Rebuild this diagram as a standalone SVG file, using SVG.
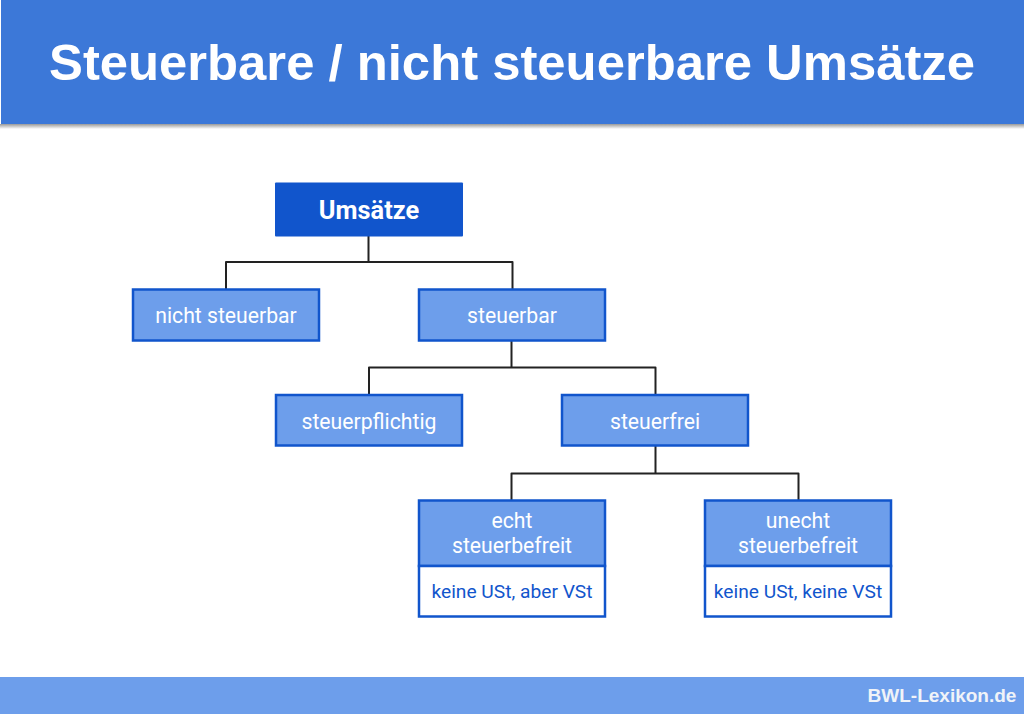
<svg xmlns="http://www.w3.org/2000/svg" width="1024" height="714" viewBox="0 0 1024 714">
<style>
.n{fill:#6d9eeb;stroke:#1155cc;stroke-width:2.500}
.w{fill:#fff;stroke:#1155cc;stroke-width:2.500}
.c{fill:none;stroke:#222;stroke-width:2;stroke-linejoin:round}
text{font-family:Roboto,"Liberation Sans",sans-serif;text-anchor:middle;font-size:21.200px;fill:#fff}
.b{fill:#1155cc;font-size:19.200px}
.a{font-family:"Liberation Sans",Arial,sans-serif;font-weight:700}
</style>
<defs><linearGradient id="s" x1="0" y1="0" x2="0" y2="1"><stop offset="0" stop-color="#999"/><stop offset="1" stop-color="#fff"/></linearGradient></defs>
<g id="header">
<rect x="0" y="124" width="1024" height="5" fill="url(#s)"/>
<rect x="1" y="0" width="1023" height="124" fill="#3c78d8"/>
<text class="a" x="512" y="80" style="font-size:50.800px">Steuerbare / nicht steuerbare Umsätze</text>
</g>
<g id="connectors">
<path class="c" d="M368.500 236V262H226V289M368.500 262H512.500V289"/>
<path class="c" d="M511.500 341V367.500H369V395M511.500 367.500H655.500V395"/>
<path class="c" d="M655.500 446V473.500H511.500V501M655.500 473.500H798.500V501"/>
</g>
<g id="umsaetze"><rect x="275" y="182.500" width="188" height="54" rx="1" fill="#1155cc"/><text x="369" y="218.500" style="font-size:25.400px;font-weight:700">Umsätze</text></g>
<g id="nicht-steuerbar"><rect class="n" x="133" y="289.500" width="186" height="51"/><text x="226" y="322.500">nicht steuerbar</text></g>
<g id="steuerbar"><rect class="n" x="419" y="289.500" width="186" height="51"/><text x="512" y="322.500">steuerbar</text></g>
<g id="steuerpflichtig"><rect class="n" x="276" y="395" width="186" height="50.500"/><text x="369" y="428.500">steuerpflichtig</text></g>
<g id="steuerfrei"><rect class="n" x="562" y="395" width="186" height="50.500"/><text x="655" y="428.500">steuerfrei</text></g>
<g id="echt-steuerbefreit"><rect class="n" x="419" y="500.500" width="186" height="65.500"/><rect class="w" x="419" y="566" width="186" height="50.500"/><text x="512" y="527.500">echt</text><text x="512" y="553">steuerbefreit</text><text class="b" x="512" y="598">keine USt, aber VSt</text></g>
<g id="unecht-steuerbefreit"><rect class="n" x="705" y="500.500" width="186" height="65.500"/><rect class="w" x="705" y="566" width="186" height="50.500"/><text x="798" y="527.500">unecht</text><text x="798" y="553">steuerbefreit</text><text class="b" x="798" y="598">keine USt, keine VSt</text></g>
<g id="footer">
<rect x="0" y="677" width="1024" height="37" fill="#6d9eeb"/>
<text class="a" x="942" y="702" style="font-size:19px;fill:#f0f3f8">BWL-Lexikon.de</text>
</g>
</svg>
